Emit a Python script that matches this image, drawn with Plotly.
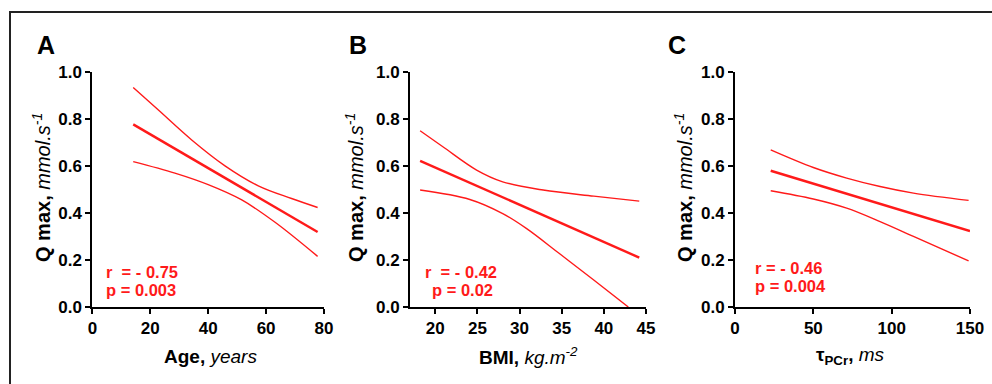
import plotly.graph_objects as go

# ---------------- data ----------------
# Panel A: Age
age_fit_x = [14.1, 77.8]
age_fit_y = [0.776, 0.319]
age_up_x = [14.1, 22.8, 34.3, 45.8, 57.3, 68.8, 77.8]
age_up_y = [0.933, 0.837, 0.710, 0.600, 0.515, 0.461, 0.423]
age_lo_x = [14.1, 28.5, 40.0, 51.6, 63.1, 77.8]
age_lo_y = [0.618, 0.569, 0.520, 0.455, 0.360, 0.215]

# Panel B: BMI
bmi_fit_x = [18.2, 44.2]
bmi_fit_y = [0.621, 0.210]
bmi_up_x = [18.2, 20.9, 24.9, 28.0, 32.8, 38.8, 44.2]
bmi_up_y = [0.749, 0.681, 0.582, 0.532, 0.497, 0.471, 0.450]
bmi_lo_x = [18.2, 24.1, 28.0, 30.8, 34.8, 38.8, 42.9]
bmi_lo_y = [0.497, 0.457, 0.397, 0.334, 0.225, 0.115, 0.0]

# Panel C: tau PCr
tau_fit_x = [22.8, 150.0]
tau_fit_y = [0.579, 0.323]
tau_up_x = [22.8, 50.0, 71.3, 92.6, 113.9, 149.1]
tau_up_y = [0.668, 0.593, 0.548, 0.512, 0.484, 0.453]
tau_lo_x = [22.8, 50.0, 71.3, 92.6, 113.9, 149.1]
tau_lo_y = [0.494, 0.459, 0.420, 0.363, 0.300, 0.196]

y_ticks = [0.0, 0.2, 0.4, 0.6, 0.8, 1.0]
age_ticks = [0, 20, 40, 60, 80]
bmi_ticks = [20, 25, 30, 35, 40, 45]
tau_ticks = [0, 50, 100, 150]

panel_letters = ["A", "B", "C"]
r_texts = ["r  = - 0.75", "r  = - 0.42", "r = - 0.46"]
p_texts = ["p = 0.003", "p = 0.02", "p = 0.004"]
x_titles = ["<b>Age,</b> <i>years</i>",
            "<b>BMI,</b> <i>kg.m<sup>-2</sup></i>",
            "<b>τ<sub>PCr</sub>,</b> <i>ms</i>"]
y_title = "<b>Q max,</b> <i>mmol.s<sup>-1</sup></i>"

# ---------------- figure ----------------
W, H = 992, 384
RED = "#ff1a1a"
FONT = "Arial, Liberation Sans, sans-serif"

def px(x):
    return x / W

def py(y):
    return 1 - y / H

fig = go.Figure()

panels = [
    (age_fit_x, age_fit_y, age_up_x, age_up_y, age_lo_x, age_lo_y),
    (bmi_fit_x, bmi_fit_y, bmi_up_x, bmi_up_y, bmi_lo_x, bmi_lo_y),
    (tau_fit_x, tau_fit_y, tau_up_x, tau_up_y, tau_lo_x, tau_lo_y),
]
for i, (fx, fy, ux, uy, lx, ly) in enumerate(panels):
    xa = "x" if i == 0 else f"x{i+1}"
    ya = "y" if i == 0 else f"y{i+1}"
    fig.add_trace(go.Scatter(x=ux, y=uy, mode="lines",
                             line=dict(color=RED, width=1.4, shape="spline", smoothing=1.0),
                             xaxis=xa, yaxis=ya, showlegend=False, hoverinfo="skip"))
    fig.add_trace(go.Scatter(x=lx, y=ly, mode="lines",
                             line=dict(color=RED, width=1.4, shape="spline", smoothing=1.0),
                             xaxis=xa, yaxis=ya, showlegend=False, hoverinfo="skip"))
    fig.add_trace(go.Scatter(x=fx, y=fy, mode="lines", line=dict(color=RED, width=2.4),
                             xaxis=xa, yaxis=ya, showlegend=False, hoverinfo="skip"))

# plot-area pixel boxes
x_doms = [(92.4, 324.0), (410.0, 646.0), (735.0, 970.0)]
y_top, y_bot = 71.7, 307.0
x_ranges = [[0, 80], [17, 45], [0, 150]]
x_tickvals = [age_ticks, bmi_ticks, tau_ticks]

axis_common = dict(showline=True, linecolor="black", linewidth=2, ticks="outside",
                   ticklen=5, tickwidth=2, tickcolor="black", showgrid=False, zeroline=False,
                   automargin=False,
                   tickfont=dict(family=FONT, size=17, color="black", weight="bold"))

layout = dict(width=W, height=H, autosize=False, margin=dict(l=0, r=0, t=0, b=0, pad=0),
              template="none",
              paper_bgcolor="white", plot_bgcolor="white", showlegend=False)
for i in range(3):
    sfx = "" if i == 0 else str(i + 1)
    layout["xaxis" + sfx] = dict(domain=[px(x_doms[i][0]), px(x_doms[i][1])],
                                 range=x_ranges[i], tickvals=x_tickvals[i],
                                 anchor="y" + sfx, **axis_common)
    layout["yaxis" + sfx] = dict(domain=[py(y_bot), py(y_top)], range=[0, 1.0],
                                 tickvals=y_ticks, tickformat=".1f",
                                 anchor="x" + sfx, **axis_common)
fig.update_layout(**layout)

ann = []
letter_pos = [(46, 45), (358, 45), (677, 45)]
ytitle_x = [42, 355, 684]
xtitle_x = [210, 528, 850]
r_pos = [(104, 272), (423, 272), (753, 268)]
p_pos = [(104, 290), (430, 290), (753, 286)]
for i in range(3):
    ann.append(dict(x=px(letter_pos[i][0]), y=py(letter_pos[i][1]), xref="paper", yref="paper",
                    xanchor="center", yanchor="middle",
                    text=f"<b>{panel_letters[i]}</b>", showarrow=False,
                    font=dict(family=FONT, size=25, color="black")))
    ann.append(dict(x=px(ytitle_x[i]), y=py(188), xref="paper", yref="paper",
                    xanchor="center", yanchor="middle",
                    text=y_title, textangle=-90, showarrow=False,
                    font=dict(family=FONT, size=20, color="black")))
    ann.append(dict(x=px(xtitle_x[i]), y=py(356), xref="paper", yref="paper",
                    xanchor="center", yanchor="middle",
                    text=x_titles[i], showarrow=False,
                    font=dict(family=FONT, size=19, color="black")))
    ann.append(dict(x=px(r_pos[i][0]), y=py(r_pos[i][1]), xref="paper", yref="paper",
                    xanchor="left", yanchor="middle", text=f"<b>{r_texts[i]}</b>", showarrow=False,
                    font=dict(family=FONT, size=16.5, color=RED)))
    ann.append(dict(x=px(p_pos[i][0]), y=py(p_pos[i][1]), xref="paper", yref="paper",
                    xanchor="left", yanchor="middle", text=f"<b>{p_texts[i]}</b>", showarrow=False,
                    font=dict(family=FONT, size=16.5, color=RED)))
fig.update_layout(annotations=ann)

# outer frame (only top and left edges visible in the reference)
fig.add_shape(type="rect", xref="paper", yref="paper",
              x0=px(10), x1=1.05, y0=-0.05, y1=py(12),
              line=dict(color="#222222", width=2), fillcolor="rgba(0,0,0,0)")

fig.write_html("out.html", config={"displayModeBar": False},
               post_script="document.body.style.margin='0';document.body.style.overflow='hidden';")
